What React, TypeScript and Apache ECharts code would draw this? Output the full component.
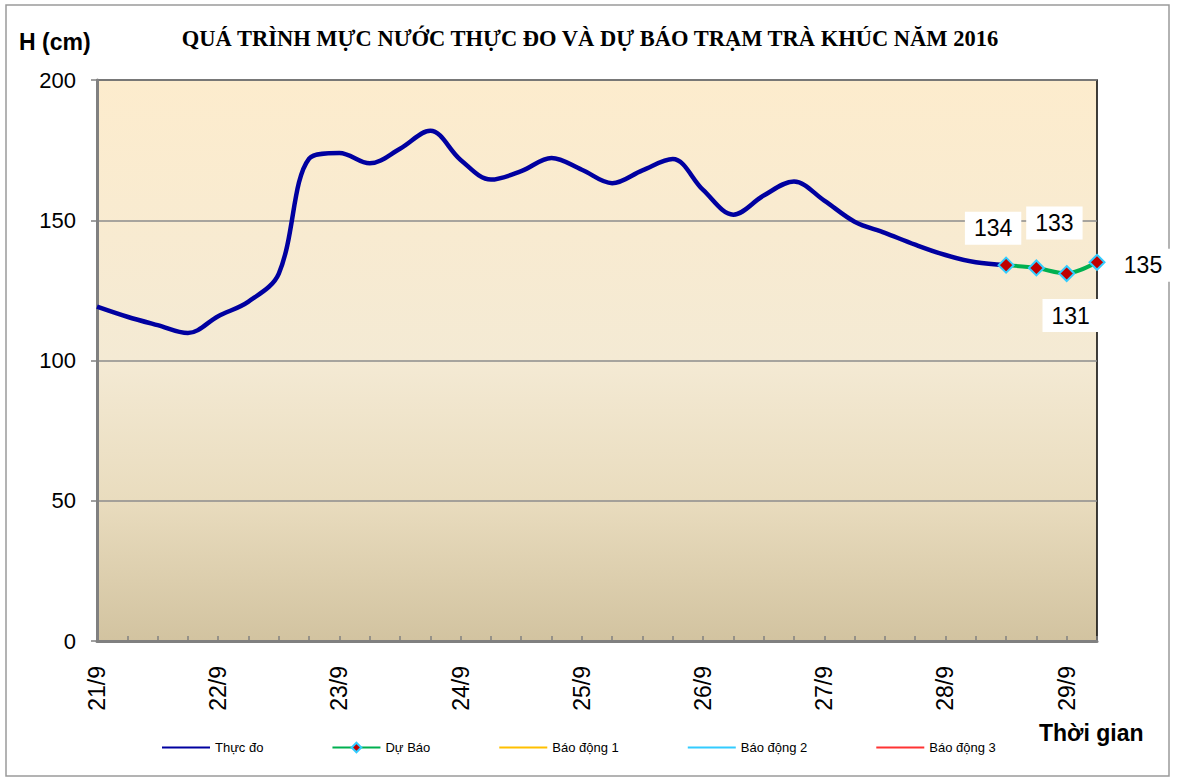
import React, { useEffect, useRef } from "react";
import * as echarts from "echarts";

const titleText = "QUÁ TRÌNH MỰC NƯỚC THỰC ĐO VÀ DỰ BÁO TRẠM TRÀ KHÚC NĂM 2016";
const yAxisTitle = "H (cm)";
const xAxisTitle = "Thời gian";

const days = ["21/9", "22/9", "23/9", "24/9", "25/9", "26/9", "27/9", "28/9", "29/9"];
const hours = ["7h", "13h", "19h", "1h"];
const pointCount = 34;

// Thực đo (observed), indices 0..30
const observed = [
  119.2, 115.6, 112.6, 109.8, 115.8, 121.0, 131.0, 172.0, 174.0, 170.3,
  175.5, 181.9, 171.5, 164.5, 167.5, 172.2, 168.0, 163.2, 167.8, 171.8,
  160.8, 152.0, 158.8, 163.8, 157.0, 149.5, 145.5, 141.3, 137.6, 135.0,
  134.0,
];

// Dự Báo (forecast), starts at index 30
const forecastStart = 30;
const forecast = [134, 133, 131, 135];
const forecastLabelOffsets = [
  [-13, -37],
  [18, -45],
  [4, 42],
  [46, 3],
];

const alarm1: number[] = [];
const alarm2: number[] = [];
const alarm3: number[] = [];

const yTicks = { min: 0, max: 200, interval: 50 };

export default function App() {
  const ref = useRef<HTMLDivElement>(null);

  useEffect(() => {
    if (!ref.current) return;
    const chart = echarts.init(ref.current, null, { renderer: "svg" });

    const categories: string[] = [];
    for (let d = 0; d < days.length; d++) {
      for (let h = 0; h < hours.length; h++) {
        if (categories.length < pointCount) categories.push(days[d] + " " + hours[h]);
      }
    }

    const observedData = categories.map((_, i) => (i < observed.length ? observed[i] : null));
    const forecastData = categories.map((_, i) => {
      const k = i - forecastStart;
      if (k < 0 || k >= forecast.length) return null;
      return { value: forecast[k], label: { offset: forecastLabelOffsets[k] } };
    });

    const font = "'Liberation Sans', Arial, sans-serif";
    const hidden = "rgba(0,0,0,0)";

    const plainLine = (name: string, data: number[], color: string, width: number) => ({
      name,
      type: "line",
      data,
      symbol: "circle",
      showSymbol: false,
      lineStyle: { color, width },
      itemStyle: { color: hidden, borderWidth: 0 },
    });

    chart.setOption({
      animation: false,
      backgroundColor: "#ffffff",
      grid: {
        left: 97,
        top: 80,
        right: 81,
        bottom: 141,
        show: true,
        borderColor: "#000000",
        borderWidth: 1.5,
        backgroundColor: new echarts.graphic.LinearGradient(0, 0, 0, 1, [
          { offset: 0, color: "#FDECCD" },
          { offset: 0.5, color: "#F4EAD4" },
          { offset: 0.75, color: "#E9DCBE" },
          { offset: 1, color: "#D2C3A0" },
        ]),
      },
      graphic: [
        {
          type: "rect",
          shape: { x: 6, y: 5, width: 1163, height: 771 },
          style: { fill: "none", stroke: "#9a9a9a", lineWidth: 1.5 },
          z: -1,
        },
        {
          type: "text",
          x: 590,
          y: 38,
          style: {
            text: titleText,
            font: "bold 22.5px 'Liberation Serif', 'Times New Roman', serif",
            fill: "#000",
            align: "center",
            verticalAlign: "middle",
          },
        },
        {
          type: "text",
          x: 19,
          y: 42,
          style: {
            text: yAxisTitle,
            font: "bold 23px 'Liberation Sans', Arial, sans-serif",
            fill: "#000",
            align: "left",
            verticalAlign: "middle",
          },
        },
        {
          type: "text",
          x: 1039,
          y: 733,
          style: {
            text: xAxisTitle,
            font: "bold 23px 'Liberation Sans', Arial, sans-serif",
            fill: "#000",
            align: "left",
            verticalAlign: "middle",
          },
        },
      ],
      legend: {
        left: 156,
        top: 736,
        itemWidth: 48,
        itemHeight: 12,
        itemGap: 68,
        textStyle: { fontFamily: font, fontSize: 13, color: "#000" },
        data: ["Thực đo", "Dự Báo", "Báo động 1", "Báo động 2", "Báo động 3"],
      },
      xAxis: {
        type: "category",
        boundaryGap: false,
        data: categories,
        axisLine: { show: true, lineStyle: { color: "#808080", width: 3 } },
        axisTick: {
          show: true,
          inside: true,
          length: 5,
          interval: 0,
          lineStyle: { color: "#808080", width: 1.5 },
        },
        axisLabel: {
          interval: 3,
          rotate: 90,
          margin: 25,
          fontSize: 23,
          fontFamily: font,
          color: "#000",
          formatter: (v: string) => v.split(" ")[0],
        },
        splitLine: { show: false },
      },
      yAxis: {
        type: "value",
        min: yTicks.min,
        max: yTicks.max,
        interval: yTicks.interval,
        axisLine: { show: true, lineStyle: { color: "#808080", width: 3 } },
        axisTick: { show: true, inside: false, length: 6, lineStyle: { color: "#808080", width: 1.5 } },
        axisLabel: { margin: 21, fontSize: 22, fontFamily: font, color: "#000" },
        splitLine: { show: true, lineStyle: { color: "#8c8c8c", width: 1.5 } },
      },
      series: [
        {
          ...plainLine("Thực đo", observedData as any, "#0000A0", 4.5),
          smooth: 0.35,
          z: 2,
        },
        {
          name: "Dự Báo",
          type: "line",
          data: forecastData,
          smooth: 0.3,
          symbol: "diamond",
          symbolSize: 15,
          lineStyle: { color: "#00B050", width: 4 },
          itemStyle: { color: "#C00000", borderColor: "#33CCFF", borderWidth: 2 },
          label: {
            show: true,
            position: "inside",
            fontSize: 23,
            fontFamily: font,
            color: "#000",
            backgroundColor: "#ffffff",
            padding: [5, 9],
          },
          z: 3,
        },
        plainLine("Báo động 1", alarm1, "#FFC000", 3),
        plainLine("Báo động 2", alarm2, "#33CCFF", 3),
        plainLine("Báo động 3", alarm3, "#FF3333", 3),
      ],
    });

    return () => chart.dispose();
  }, []);

  return (
    <div
      ref={ref}
      style={{ position: "fixed", left: 0, top: 0, width: 1178, height: 782 }}
    />
  );
}
